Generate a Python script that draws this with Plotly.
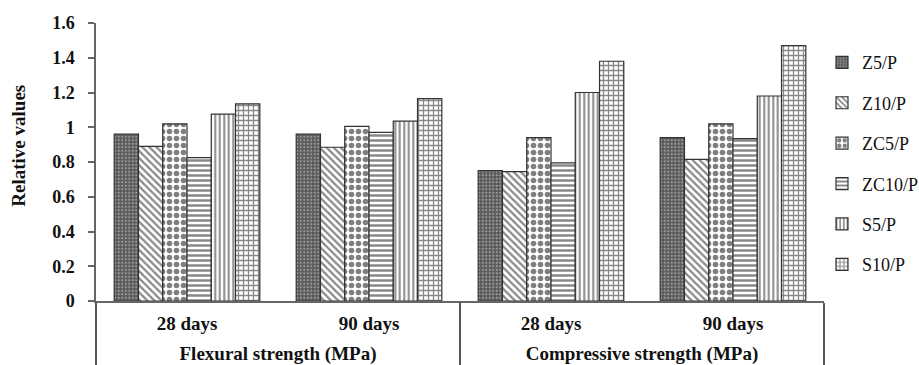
import plotly.graph_objects as go

# ---- data ----
series = ["Z5/P", "Z10/P", "ZC5/P", "ZC10/P", "S5/P", "S10/P"]
group_labels = ["Flexural strength (MPa)", "Flexural strength (MPa)",
                "Compressive strength (MPa)", "Compressive strength (MPa)"]
age_labels = ["28 days", "90 days", "28 days", "90 days"]

z5_p = [0.96, 0.96, 0.75, 0.94]
z10_p = [0.89, 0.885, 0.745, 0.815]
zc5_p = [1.02, 1.005, 0.94, 1.02]
zc10_p = [0.825, 0.97, 0.795, 0.935]
s5_p = [1.075, 1.035, 1.20, 1.18]
s10_p = [1.135, 1.165, 1.38, 1.47]

values = [z5_p, z10_p, zc5_p, zc10_p, s5_p, s10_p]

y_ticks = [0, 0.2, 0.4, 0.6, 0.8, 1.0, 1.2, 1.4, 1.6]
y_tick_text = ["0", "0.2", "0.4", "0.6", "0.8", "1", "1.2", "1.4", "1.6"]

# ---- styles ----
patterns = [
    dict(shape=".", size=3.5, solidity=0.3, fgcolor="#dcdcdc", bgcolor="#5a5a5a"),
    dict(shape="\\", size=5, solidity=0.45, fgcolor="#111", bgcolor="white"),
    dict(shape=".", size=7, solidity=0.5, fgcolor="#000", bgcolor="white"),
    dict(shape="-", size=5, solidity=0.5, fgcolor="#111", bgcolor="white"),
    dict(shape="|", size=4.5, solidity=0.45, fgcolor="#111", bgcolor="white"),
    dict(shape="+", size=5, solidity=0.45, fgcolor="#111", bgcolor="white"),
]

# invisible padding widens the first label row so the second row sits lower
pad = "<span style='font-size:29px'>\u00a0</span>"
ages = [pad + a + pad for a in age_labels]
groups = list(group_labels)

fig = go.Figure()
for name, vals, pat in zip(series, values, patterns):
    fig.add_trace(go.Bar(
        name=name,
        x=[groups, ages],
        y=vals,
        legendgroup=name,
        marker=dict(color="white", pattern=pat,
                    line=dict(color="#333", width=1.2)),
    ))

serif = "Liberation Serif"
fig.update_layout(
    width=919, height=365,
    margin=dict(l=96, r=95, t=23, b=64, autoexpand=False),
    plot_bgcolor="white", paper_bgcolor="white",
    barmode="group", bargap=0.2, bargroupgap=0,
    font=dict(family=serif, color="#111"),
    legend=dict(x=(822 - 96) / 728, xanchor="left", y=0.924, yanchor="top",
                font=dict(family=serif, size=18, color="#111"),
                tracegroupgap=14, itemwidth=30, bgcolor="rgba(0,0,0,0)"),
    showlegend=True,
)
fig.update_xaxes(
    type="multicategory",
    showline=True, linecolor="#666", linewidth=1.5,
    ticks="", showgrid=False,
    showdividers=True, dividercolor="#555", dividerwidth=1.5,
    ticklabelstandoff=4,
    tickfont=dict(family=serif, size=19, weight="bold", color="#111"),
    automargin=False,
)
fig.update_yaxes(
    range=[0, 1.6], tickvals=y_ticks, ticktext=y_tick_text,
    showline=True, linecolor="#666", linewidth=1.5,
    ticks="outside", ticklen=6, tickcolor="#666", tickwidth=1.5,
    showgrid=False, zeroline=False,
    ticklabelstandoff=10,
    tickfont=dict(family=serif, size=18, weight="bold", color="#111"),
    automargin=False,
)
fig.add_annotation(
    text="Relative values", textangle=-90,
    xref="paper", yref="paper",
    x=(19 - 96) / 728, y=(301 - 146) / 277.4,
    xanchor="center", yanchor="middle", showarrow=False,
    font=dict(family=serif, size=19, weight="bold", color="#111"),
)

fig.write_html(
    "out.html",
    config={"displayModeBar": False},
    post_script="document.body.style.margin='0';document.body.style.overflow='hidden';",
)
